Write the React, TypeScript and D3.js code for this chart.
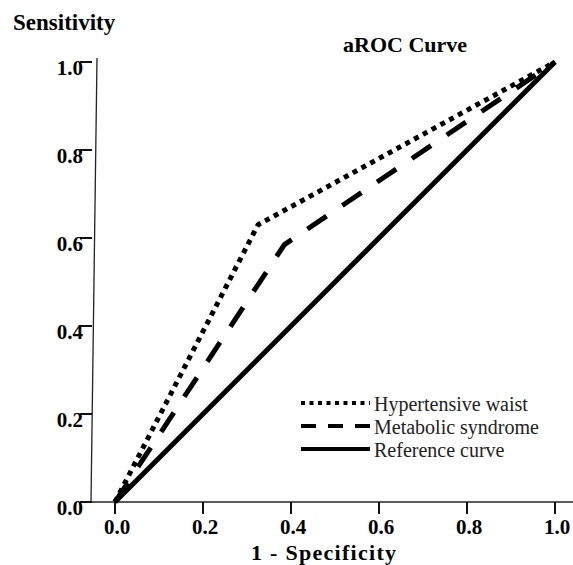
import * as d3 from "d3";
import {useEffect, useRef} from "react";

// ROC points
const hypertensiveX = [0, 0.325, 1];
const hypertensiveY = [0, 0.63, 1];
const metabolicX = [0, 0.385, 1];
const metabolicY = [0, 0.585, 1];
const referenceX = [0, 1];
const referenceY = [0, 1];

const tickValues = [0, 0.2, 0.4, 0.6, 0.8, 1.0];
const legendLabels = ["Hypertensive waist", "Metabolic syndrome", "Reference curve"];

const FONT = "Liberation Serif";

const App = () => {
    const ref = useRef(null);

    useEffect(() => {
        const svg = d3.select(ref.current);
        svg.selectAll("*").remove();

        const x = d3.scaleLinear().domain([0, 1]).range([115, 555]);
        const y = d3.scaleLinear().domain([0, 1]).range([502, 62]);

        // axes
        svg.append("line")
            .attr("x1", 97).attr("y1", y(1) - 4)
            .attr("x2", 91).attr("y2", y(0))
            .attr("stroke", "#222").attr("stroke-width", 1.3);
        svg.append("line")
            .attr("x1", 91).attr("y1", y(0))
            .attr("x2", 573).attr("y2", y(0))
            .attr("stroke", "#222").attr("stroke-width", 1.3);

        // y ticks
        tickValues.forEach(v => {
            svg.append("line")
                .attr("x1", 80).attr("x2", 92)
                .attr("y1", y(v)).attr("y2", y(v))
                .attr("stroke", "#111").attr("stroke-width", 2);
            svg.append("text")
                .attr("x", 83).attr("y", y(v) + 13)
                .attr("text-anchor", "end")
                .style("font-family", FONT).attr("font-weight", "bold")
                .attr("font-size", 21)
                .text(v.toFixed(1));
        });

        // x ticks
        tickValues.forEach(v => {
            svg.append("line")
                .attr("x1", x(v)).attr("x2", x(v))
                .attr("y1", y(0)).attr("y2", y(0) + 12)
                .attr("stroke", "#111").attr("stroke-width", 2);
            svg.append("text")
                .attr("x", x(v) + 2).attr("y", 534)
                .attr("text-anchor", "middle")
                .style("font-family", FONT).attr("font-weight", "bold")
                .attr("font-size", 21)
                .text(v.toFixed(1));
        });

        // titles
        svg.append("text")
            .attr("x", 13).attr("y", 30)
            .style("font-family", FONT).attr("font-weight", "bold")
            .attr("font-size", 23)
            .text("Sensitivity");
        svg.append("text")
            .attr("x", 343).attr("y", 52)
            .style("font-family", FONT).attr("font-weight", "bold")
            .attr("font-size", 22)
            .text("aROC Curve");
        svg.append("text")
            .attr("x", 251).attr("y", 560)
            .style("font-family", FONT).attr("font-weight", "bold")
            .attr("font-size", 22)
            .attr("textLength", 145)
            .attr("lengthAdjust", "spacing")
            .text("1 - Specificity");

        const line = d3.line().x(d => x(d[0])).y(d => y(d[1]));
        const series = [
            {xs: referenceX, ys: referenceY, dash: null, width: 5},
            {xs: metabolicX, ys: metabolicY, dash: "23,19", width: 5},
            {xs: hypertensiveX, ys: hypertensiveY, dash: "5,5", width: 5},
        ];
        series.forEach(s => {
            svg.append("path")
                .attr("d", line(s.xs.map((v, i) => [v, s.ys[i]])))
                .attr("fill", "none")
                .attr("stroke", "#000")
                .attr("stroke-width", s.width)
                .attr("stroke-linejoin", "miter")
                .attr("stroke-dasharray", s.dash);
        });

        // legend
        const legendDash = ["4,4.5", "15,12", null];
        const legendY = [403, 426, 449];
        legendLabels.forEach((label, i) => {
            svg.append("line")
                .attr("x1", 301).attr("x2", 370)
                .attr("y1", legendY[i]).attr("y2", legendY[i])
                .attr("stroke", "#000")
                .attr("stroke-width", 4)
                .attr("stroke-dasharray", legendDash[i]);
            svg.append("text")
                .attr("x", 374).attr("y", legendY[i] + 8)
                .style("font-family", FONT)
                .attr("font-size", 20)
                .attr("fill", "#222")
                .text(label);
        });
    }, []);

    return (
        <svg
            ref={ref}
            width={573}
            height={565}
            style={{position: "absolute", left: 0, top: 0, background: "#fff"}}>
        </svg>
    );
};

export default App;
